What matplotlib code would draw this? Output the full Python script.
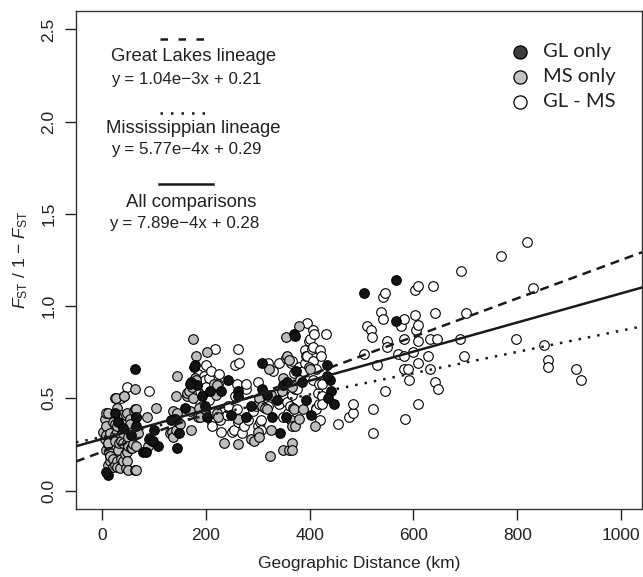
import matplotlib
matplotlib.use("Agg")
import matplotlib.pyplot as plt
import numpy as np

plt.rcParams['font.family'] = ['Liberation Sans', 'DejaVu Sans']
plt.rcParams['mathtext.fontset'] = 'custom'
plt.rcParams['mathtext.rm'] = 'Liberation Sans'
plt.rcParams['mathtext.it'] = 'Liberation Sans:italic'

# GL only (black)
gl_x = [63, 11, 8, 25, 65, 65, 79, 84, 90, 100, 108, 145, 140, 148, 171, 177, 183, 193, 199, 203,
        208, 229, 242, 248, 261, 261, 278, 287, 309, 309, 327, 337, 343, 349, 357, 369, 374, 385, 392, 403,
        433, 440, 442, 436, 447, 505, 567, 567, 355, 30, 40, 55, 160, 318, 132, 98, 179, 169, 372, 434]
gl_y = [0.66, 0.086, 0.10, 0.42, 0.40, 0.35, 0.21, 0.21, 0.28, 0.33, 0.24, 0.23, 0.39, 0.31, 0.59, 0.67,
        0.57, 0.51, 0.46, 0.40, 0.54, 0.54, 0.60, 0.41, 0.54, 0.51, 0.40, 0.46, 0.69, 0.55, 0.40, 0.49,
        0.31, 0.57, 0.59, 0.85, 0.65, 0.59, 0.49, 0.41, 0.68, 0.60, 0.54, 0.50, 0.47, 1.07, 1.14, 0.92,
        0.40, 0.37, 0.34, 0.30, 0.45, 0.52, 0.38, 0.27, 0.68, 0.58, 0.84, 0.62]

# MS only (grey)
ms_x = [2, 6, 6, 8, 7, 8, 8, 11, 11, 11, 12, 13, 15, 15, 16, 16, 21, 21, 21, 25, 25, 25, 25, 25, 27,
        28, 28, 28, 29, 29, 31, 33, 33, 34, 37, 37, 37, 37, 41, 41, 41, 41, 42, 43, 44, 45, 45, 47, 47,
        47, 47, 49, 49, 50, 53, 53, 55, 57, 57, 59, 61, 63, 63, 63, 65, 65, 65, 66, 66, 69,
        86, 89, 96, 104, 131, 134, 136, 137, 142, 142, 144, 144, 146, 150, 163, 163, 167, 169, 171, 173,
        175, 176, 180, 179, 180, 185, 187, 189, 203, 215, 219, 221, 221, 223, 234, 261, 262, 287, 293, 300,
        301, 303, 303, 309, 314, 317, 321, 324, 325, 325, 346, 349, 349, 354, 355, 357, 361, 361, 363, 365,
        366, 366, 368, 369, 372, 379, 380, 388, 399, 400, 410, 365]
ms_y = [0.32, 0.39, 0.28, 0.35, 0.42, 0.30, 0.22, 0.42, 0.25, 0.14, 0.26, 0.21, 0.19, 0.16, 0.31, 0.19,
        0.37, 0.17, 0.13, 0.30, 0.14, 0.36, 0.27, 0.50, 0.50, 0.45, 0.32, 0.16, 0.35, 0.13, 0.22, 0.41,
        0.26, 0.12, 0.30, 0.41, 0.27, 0.17, 0.26, 0.16, 0.31, 0.36, 0.51, 0.51, 0.20, 0.41, 0.12, 0.42,
        0.21, 0.26, 0.16, 0.29, 0.24, 0.11, 0.39, 0.36, 0.23, 0.32, 0.23, 0.25, 0.43, 0.55, 0.44, 0.11,
        0.44, 0.24, 0.11, 0.40, 0.32, 0.31,
        0.40, 0.24, 0.27, 0.45, 0.31, 0.32, 0.43, 0.29, 0.33, 0.51, 0.62, 0.42, 0.37, 0.36, 0.51, 0.53,
        0.54, 0.43, 0.33, 0.56, 0.50, 0.82, 0.73, 0.61, 0.60, 0.40, 0.45, 0.40, 0.75, 0.58, 0.52, 0.57,
        0.42, 0.40, 0.26, 0.25, 0.39, 0.28, 0.27, 0.47, 0.32, 0.29, 0.50, 0.46, 0.45, 0.44, 0.66, 0.19,
        0.52, 0.33, 0.54, 0.61, 0.22, 0.72, 0.83, 0.73, 0.71, 0.22, 0.38, 0.26, 0.35, 0.22, 0.45, 0.44,
        0.35, 0.89, 0.39, 0.44, 0.67, 0.66, 0.35, 0.56]

# GL - MS (white)
glms_x = [37, 48, 90, 172, 185, 187, 192, 196, 196, 198, 201, 201, 205, 206, 210, 211, 211, 214, 217, 224,
          226, 227, 227, 230, 240, 243, 250, 254, 256, 256, 259, 259, 262, 262, 264, 270, 271, 274, 277, 278,
          282, 290, 297, 301, 301, 304, 304, 306, 307, 319, 320, 329, 340, 341, 349, 349, 357, 359, 362, 363,
          365, 366, 369, 372, 375, 380, 381, 388, 390, 391, 392, 394, 394, 399, 401, 404, 406, 407, 407, 407,
          408, 412, 412, 413, 416, 417, 417, 420, 420, 421, 423, 424, 424, 432,
          455, 475, 483, 483, 505, 511, 519, 521, 522, 522, 530, 538, 541, 542, 546, 548, 548, 546, 570, 576,
          582, 582, 582, 582, 583, 590, 592, 600, 603, 603, 608, 605, 609, 608, 609, 608, 628, 632, 632, 637,
          641, 641, 645, 647, 690, 692, 697, 701, 769, 797, 819, 830, 852, 860, 860, 913, 923]
glms_y = [0.50, 0.56, 0.54, 0.53, 0.63, 0.49, 0.46, 0.53, 0.62, 0.60, 0.68, 0.56, 0.49, 0.61, 0.65, 0.37,
          0.35, 0.42, 0.77, 0.58, 0.63, 0.54, 0.38, 0.32, 0.41, 0.46, 0.32, 0.33, 0.68, 0.51, 0.58, 0.44,
          0.77, 0.37, 0.69, 0.31, 0.38, 0.35, 0.55, 0.58, 0.38, 0.43, 0.46, 0.59, 0.35, 0.50, 0.37, 0.38,
          0.33, 0.69, 0.46, 0.65, 0.47, 0.69, 0.52, 0.40, 0.48, 0.42, 0.46, 0.69, 0.52, 0.70, 0.64, 0.55,
          0.55, 0.67, 0.60, 0.65, 0.69, 0.76, 0.73, 0.91, 0.73, 0.81, 0.82, 0.77, 0.78, 0.87, 0.70, 0.60,
          0.85, 0.66, 0.45, 0.44, 0.53, 0.58, 0.47, 0.76, 0.38, 0.73, 0.51, 0.58, 0.47, 0.85,
          0.36, 0.40, 0.42, 0.47, 0.74, 0.89, 0.87, 0.83, 0.44, 0.31, 0.68, 0.97, 0.93, 1.05, 1.07, 0.81,
          0.78, 0.54, 0.74, 0.89, 0.93, 0.82, 0.73, 0.66, 0.39, 0.66, 0.60, 0.75, 0.95, 1.09, 1.11, 0.87,
          0.90, 0.81, 0.69, 0.47, 0.73, 0.82, 0.66, 1.11, 0.96, 0.59, 0.82, 0.55, 0.82, 1.19, 0.73, 0.96,
          1.27, 0.82, 1.35, 1.10, 0.79, 0.71, 0.67, 0.66, 0.60]

# regression lines (slope, intercept)
fits = {
    'gl': (1.04e-3, 0.21),
    'ms': (5.77e-4, 0.29),
    'all': (7.89e-4, 0.28),
}

fig = plt.figure(figsize=(6.43, 5.77), dpi=100)
ax = fig.add_axes([76 / 643, 1 - 509 / 577, 566 / 643, 498 / 577])

xlim = (-50.4, 1040.4)
ylim = (-0.1, 2.6)
ax.set_xlim(xlim)
ax.set_ylim(ylim)

pt = dict(s=48, edgecolors='black', linewidths=0.8, zorder=3)
ax.scatter(glms_x, glms_y, c='white', **pt)
ax.scatter(ms_x, ms_y, c='#bdbdbd', **pt)
ax.scatter(gl_x, gl_y, c='#141414', **pt)

xx = np.array(xlim)
lw = 1.8
m, b = fits['gl']
ax.plot(xx, m * xx + b, color='#1a1a1a', lw=lw, linestyle=(0, (3.6, 2.4)), zorder=4)
m, b = fits['ms']
ax.plot(xx, m * xx + b, color='#1a1a1a', lw=lw, linestyle=(0, (1, 2.8)), zorder=4)
m, b = fits['all']
ax.plot(xx, m * xx + b, color='#1a1a1a', lw=lw, zorder=4)

# line legend (top left)
tr = ax.transAxes
ax.plot([0.148, 0.231], [0.943, 0.943], transform=tr, color='#1a1a1a', lw=lw,
        linestyle=(0, (3.0, 4.2)))
ax.plot([0.148, 0.240], [0.795, 0.795], transform=tr, color='#1a1a1a', lw=lw,
        linestyle=(0, (1, 3.2)))
ax.plot([0.147, 0.242], [0.653, 0.653], transform=tr, color='#1a1a1a', lw=lw)
tkw = dict(transform=tr, ha='center', va='center', color='#222222')
ax.text(0.207, 0.908, 'Great Lakes lineage', fontsize=13.3, **tkw)
ax.text(0.194, 0.863, 'y = 1.04e\u22123x + 0.21', fontsize=12.2, **tkw)
ax.text(0.207, 0.765, 'Mississippian lineage', fontsize=13.3, **tkw)
ax.text(0.194, 0.721, 'y = 5.77e\u22124x + 0.29', fontsize=12.2, **tkw)
ax.text(0.203, 0.616, 'All comparisons', fontsize=13.3, **tkw)
ax.text(0.191, 0.574, 'y = 7.89e\u22124x + 0.28', fontsize=12.2, **tkw)

# point legend (top right)
leg_y = [0.918, 0.868, 0.818]
leg_fill = ['#3c3c3c', '#c4c4c4', 'white']
leg_lab = ['GL only', 'MS only', 'GL - MS']
for yy, fc, lab in zip(leg_y, leg_fill, leg_lab):
    ax.plot([0.785], [yy], 'o', transform=tr, ms=9.5, mfc=fc, mec='black', mew=0.9)
    ax.text(0.825, yy, lab, transform=tr, ha='left', va='center', fontsize=14.5,
            family=['Lato', 'DejaVu Sans'], color='#222222')

ax.set_xticks([0, 200, 400, 600, 800, 1000])
ax.set_yticks([0.0, 0.5, 1.0, 1.5, 2.0, 2.5])
ax.set_yticklabels(['0.0', '0.5', '1.0', '1.5', '2.0', '2.5'], rotation=90, va='center')
ax.tick_params(direction='out', length=8, width=1, labelsize=12.5, colors='#222222', pad=6)
for sp in ax.spines.values():
    sp.set_color('#333333')
    sp.set_linewidth(1.0)

ax.set_xlabel('Geographic Distance (km)', fontsize=12.5, color='#222222', labelpad=9)
ax.set_ylabel(r'$F_{\mathrm{ST}}$ / 1 $-$ $F_{\mathrm{ST}}$', fontsize=12.5, color='#222222', labelpad=8)

fig.savefig('out.png', dpi=100)
